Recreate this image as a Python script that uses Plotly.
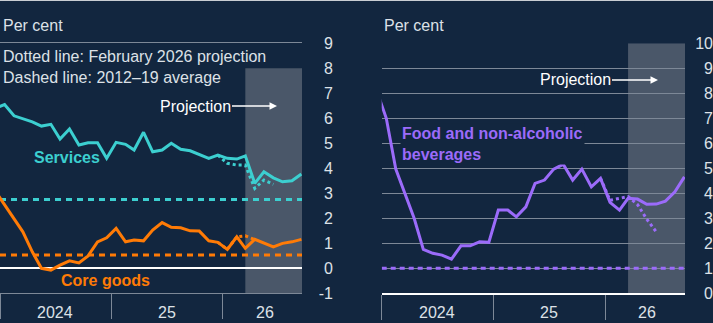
import pandas as pd
import plotly.graph_objects as go

# ---- data -------------------------------------------------------------
# Monthly observations, plotted at mid-month, Dec 2023 to Sep 2026
months = pd.date_range("2023-12-01", periods=34, freq="MS") + pd.Timedelta(days=15)

services = [6.4, 6.55, 6.1, 5.97, 5.86, 5.69, 5.76, 5.17, 5.57, 4.93, 5.02, 5.02, 4.4,
            5.04, 4.96, 4.73, 5.44, 4.66, 4.73, 5.0, 4.76, 4.7, 4.56, 4.4, 4.53,
            4.4, 4.37, 4.5, 3.4, 3.86, 3.62, 3.46, 3.5, 3.77]
core_goods = [3.1, 2.55, 1.96, 1.46, 0.66, 0.0, -0.07, 0.13, 0.30, 0.22, 0.50, 1.06, 1.22,
              1.60, 1.06, 1.13, 1.10, 1.53, 1.83, 1.64, 1.62, 1.50, 1.49, 1.10, 1.04,
              0.76, 1.26, 0.80, 1.16, 1.0, 0.86, 1.0, 1.06, 1.16]
food = [8.1, 7.0, 4.97, 4.0, 3.0, 1.76, 1.6, 1.53, 1.37, 1.9, 1.9, 2.06, 2.04,
        3.33, 3.33, 3.06, 3.46, 4.4, 4.53, 4.97, 5.16, 4.53, 4.97, 4.26, 4.6,
        3.64, 3.33, 3.8, 3.77, 3.56, 3.57, 3.69, 4.06, 4.66]

# February 2026 projections (from Dec 2025)
services_feb = [4.53, 4.2, 4.13, 4.13, 3.2, 3.53, 3.36]
core_goods_feb = [1.04, 0.76, 1.26, 1.30, 1.15]
food_feb = [4.6, 3.72, 3.8, 3.87, 3.55, 2.97, 2.46]

# 2012-19 averages
services_avg = 2.75
core_goods_avg = 0.53
food_avg = 1.0

year_ticks = ["2024-01-01", "2025-01-01", "2026-01-01"]
label_pos = ["2024-07-01", "2025-07-01", "2026-05-18"]
label_text = ["2024", "25", "26"]
left_ticks = list(range(-1, 10))
right_ticks = list(range(0, 11))
x_range = ["2024-01-01", "2026-09-18"]
projection_start = months[27]

# ---- style ------------------------------------------------------------
NAVY = "#12263f"
GRID = "#7d8897"
SHADE = "#4a5769"
TEXT = "#dde1e7"
CYAN = "#3ccfd0"
ORANGE = "#ff7b06"
PURPLE = "#9b6bfa"
FONT = "Liberation Sans, Arial, sans-serif"

Y_DOM = [0.0918, 0.8659]
XL_DOM = [0.0, 302 / 713]
XR_DOM = [381.7 / 713, 685 / 713]
YEAR_LABEL_Y = 11 / 323  # vertical centre of the year labels (paper)

fig = go.Figure()

def line(x, y, color, xa, ya, dash="solid"):
    fig.add_trace(go.Scatter(x=list(x), y=y, mode="lines", xaxis=xa, yaxis=ya,
                             line=dict(color=color, width=3, dash=dash),
                             hoverinfo="skip", showlegend=False))

# 2012-19 average lines across the full period
line(x_range, [services_avg] * 2, CYAN, "x", "y", "6px,5px")
line(x_range, [core_goods_avg] * 2, ORANGE, "x", "y", "6px,5px")
line(x_range, [food_avg] * 2, PURPLE, "x2", "y2", "5px,4px")

# left panel
line(months[24:24 + len(services_feb)], services_feb, CYAN, "x", "y", "dot")
line(months[24:24 + len(core_goods_feb)], core_goods_feb, ORANGE, "x", "y", "dot")
line(months, services, CYAN, "x", "y")
line(months, core_goods, ORANGE, "x", "y")
# right panel
line(months[24:24 + len(food_feb)], food_feb, PURPLE, "x2", "y2", "dot")
line(months, food, PURPLE, "x2", "y2")

# projection shading
fig.add_shape(type="rect", xref="x", yref="y", x0=projection_start, x1="2026-12-31",
              y0=-1, y1=8, fillcolor=SHADE, line_width=0, layer="below")
fig.add_shape(type="rect", xref="x2", yref="y2", x0=projection_start, x1="2026-12-31",
              y0=0, y1=10, fillcolor=SHADE, line_width=0, layer="below")

tickfont = dict(family=FONT, size=16, color=TEXT)
# date axes: long separator ticks at the year boundaries
xseparators = dict(type="date", range=x_range, tickmode="array", tickvals=year_ticks,
                   ticks="outside", ticklen=25, tickwidth=1, tickcolor=GRID,
                   showticklabels=False, showgrid=False, zeroline=False,
                   automargin=False)

fig.update_layout(
    width=713, height=323, margin=dict(l=0, r=0, t=0, b=0, autoexpand=False),
    paper_bgcolor=NAVY, plot_bgcolor=NAVY, showlegend=False,
    font=dict(family=FONT, size=16, color=TEXT),
    xaxis=dict(domain=XL_DOM, anchor="y", showline=True, mirror=True,
               linecolor=GRID, linewidth=1, **xseparators),
    xaxis2=dict(domain=XR_DOM, anchor="y2", showline=True, linecolor="#ffffff",
                linewidth=2, **xseparators),
    xaxis4=dict(domain=XR_DOM, anchor="y2", overlaying="x2", side="top",
                showline=True, linecolor=GRID, linewidth=1, showticklabels=False,
                ticks="", showgrid=False, zeroline=False, range=x_range, type="date",
                automargin=False),
    # left value axis: labels only, right-aligned beside the plot
    yaxis=dict(domain=Y_DOM, range=[-1, 9], tickmode="array",
               tickvals=left_ticks, ticktext=[str(v) for v in left_ticks],
               side="left", anchor="free",
               position=333 / 713, ticks="", showgrid=False, zeroline=True,
               zerolinecolor="#ffffff", zerolinewidth=2, tickfont=tickfont,
               showline=False, automargin=False),
    # left grid lines
    yaxis3=dict(domain=Y_DOM, range=[-1, 9], overlaying="y", anchor="x",
                tickmode="array", tickvals=[-1, 1, 2, 3, 4, 5, 6, 7, 9],
                showticklabels=False, ticks="", showgrid=True, gridcolor=GRID,
                gridwidth=1, zeroline=False, automargin=False),
    yaxis2=dict(domain=Y_DOM, range=[0, 10], tickmode="array",
                tickvals=right_ticks, ticktext=[str(v) for v in right_ticks],
                side="left", anchor="free",
                position=1.0, ticks="", showgrid=True, gridcolor=GRID, gridwidth=1,
                zeroline=False, tickfont=tickfont, showline=False, automargin=False),
)

# year labels, centred on each year's visible span
for xa in ("x", "x2"):
    for pos, txt in zip(label_pos, label_text):
        fig.add_annotation(text=txt, xref=xa, yref="paper", x=pos, y=YEAR_LABEL_Y,
                           xanchor="center", yanchor="middle", showarrow=False,
                           font=tickfont)

def note(text, x, y, color=TEXT, bold=False, **kw):
    fig.add_annotation(text=f"<b>{text}</b>" if bold else text, xref="paper",
                       yref="paper", x=x / 713, y=1 - y / 323, xanchor="left",
                       yanchor="middle", showarrow=False, align="left",
                       font=dict(family=FONT, size=16, color=color), **kw)

note("Per cent", 1, 25)
note("Per cent", 382, 25)
note("Dotted line: February 2026 projection<br>Dashed line: 2012–19 average", 1, 67)
note("Services", 32, 157, CYAN, bold=True)
note("Core goods", 59, 280, ORANGE, bold=True)
note("Food and non-alcoholic<br>beverages", 399.7, 143.5, PURPLE, bold=True,
     bgcolor=NAVY, borderpad=1)

# projection arrows
for tip_x, tip_y, text_cx in [(277, 106, 195), (658, 80, 575)]:
    fig.add_annotation(text="Projection", xref="paper", yref="paper",
                       x=tip_x / 713, y=1 - tip_y / 323, ax=text_cx - tip_x, ay=0,
                       showarrow=True, arrowhead=2, arrowsize=1, arrowwidth=1.5,
                       arrowcolor="#ffffff", standoff=0,
                       font=dict(family=FONT, size=16, color="#ffffff"))

# thin light rule along the top edge
fig.add_shape(type="line", xref="paper", yref="paper", x0=0, x1=1, y0=1, y1=1,
              line=dict(color="#c9cdd3", width=2))

fig.write_html("out.html")
